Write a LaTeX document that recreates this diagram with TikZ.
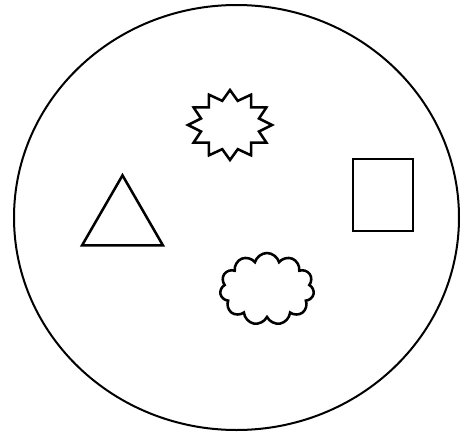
\documentclass[tikz,border=0pt]{standalone}
\usetikzlibrary{shapes.geometric, shapes.symbols}

\begin{document}
\begin{tikzpicture}[x=0.75pt, y=-0.75pt, line join=miter]
  \tikzset{
    outline/.style={draw=black, line width=1.5pt, inner sep=0pt},
    figure/.style={draw=black, line width=1.9pt, inner sep=0pt, outer sep=0pt}
  }
  \useasboundingbox (0,0) rectangle (472,437);
  % the big enclosing ellipse
  \node[outline, ellipse, minimum width=333.75pt, minimum height=318.75pt] (world) at (236.5,217.5) {};
  % the four figures inside it
  \node[figure, star, star points=12, star point ratio=1.4, minimum size=52.5pt,
        xscale=1.2, transform shape] (spiky) at (230,125) {};
  \node[figure, rectangle, minimum width=45pt, minimum height=54pt] (box) at (383,195) {};
  \node[figure, regular polygon, regular polygon sides=3, minimum size=70pt] (tri) at (122.5,222) {};
  \node[figure, cloud, cloud puffs=11, cloud ignores aspect, minimum width=70.5pt, minimum height=54pt] (puff) at (267,289) {};
\end{tikzpicture}
\end{document}
